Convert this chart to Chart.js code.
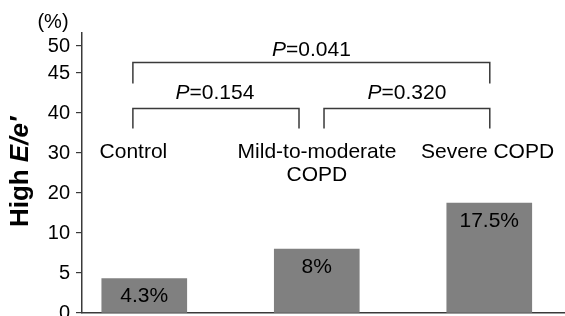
<!DOCTYPE html>
<html><head><meta charset="utf-8">
<script src="https://cdn.jsdelivr.net/npm/chart.js@4/dist/chart.umd.min.js"></script>
<style>html,body{margin:0;padding:0;background:#fff}#wrap{width:565px;height:316px}</style>
</head><body><div id="wrap"><canvas id="c" width="565" height="316"></canvas></div>
<script>
// ---- data ----
const categories = ['Control', 'Mild-to-moderate\nCOPD', 'Severe COPD'];
const highEePercent = [4.3, 8, 17.5];
const valueLabels = ['4.3%', '8%', '17.5%'];
const yTickValues = [0, 5, 10, 20, 30, 40, 45, 50];
const comparisonPairs = [[0, 2], [0, 1], [1, 2]];
const comparisonP = ['0.041', '0.154', '0.320'];

// ---- layout (broken axis slots & annotation placement, in axis units) ----
const yTickSlots = [0, 1, 2, 3, 4, 5, 6, 6.675];
const yTopSlot = 7;
const categoryLabelX = [-0.063, 1.001, 1.99];
const categoryLabelY = [30.1, 24.4];
const bracketLayout = [
  {x0: -0.066, x1: 2.003, yTop: 46.94, yLeg: 43.69, labelX: 0.969, labelY: 49.17},
  {x0: -0.066, x1: 0.897, yTop: 40.56, yLeg: 36.1, labelX: 0.41, labelY: 42.44},
  {x0: 1.042, x1: 2.003, yTop: 40.56, yLeg: 36.1, labelX: 1.523, labelY: 42.44}
];

const FONT = "'Liberation Sans', Arial, Helvetica, sans-serif";
const AXIS_COLOR = '#3a3a3a';
const LABEL_SIZE = 21;

// piecewise (broken) linear value axis
class BrokenLinearScale extends Chart.LinearScale {
  slotOf(v) {
    const vals = yTickValues, slots = yTickSlots;
    let i = 1;
    while (i < vals.length - 1 && v > vals[i]) i++;
    const t = (v - vals[i - 1]) / (vals[i] - vals[i - 1]);
    return slots[i - 1] + t * (slots[i] - slots[i - 1]);
  }
  valueOfSlot(s) {
    const vals = yTickValues, slots = yTickSlots;
    let i = 1;
    while (i < slots.length - 1 && s > slots[i]) i++;
    const t = (s - slots[i - 1]) / (slots[i] - slots[i - 1]);
    return vals[i - 1] + t * (vals[i] - vals[i - 1]);
  }
  determineDataLimits() { this.min = yTickValues[0]; this.max = yTickValues[yTickValues.length - 1]; }
  buildTicks() { return yTickValues.map(v => ({value: v})); }
  getPixelForValue(v) { return this.getPixelForDecimal(this.slotOf(v) / yTopSlot); }
  getValueForPixel(p) { return this.valueOfSlot(this.getDecimalForPixel(p) * yTopSlot); }
}
BrokenLinearScale.id = 'brokenLinear';
BrokenLinearScale.defaults = Chart.LinearScale.defaults;
Chart.register(BrokenLinearScale);

function drawMixed(ctx, parts, cx, cy, size, weight) {
  let total = 0;
  const widths = parts.map(p => {
    ctx.font = `${p.italic ? 'italic ' : ''}${weight} ${size}px ${FONT}`;
    const w = ctx.measureText(p.text).width; total += w; return w;
  });
  let x = cx - total / 2;
  ctx.textAlign = 'left'; ctx.textBaseline = 'middle';
  parts.forEach((p, i) => {
    ctx.font = `${p.italic ? 'italic ' : ''}${weight} ${size}px ${FONT}`;
    ctx.fillText(p.text, x, cy); x += widths[i];
  });
}

const annotations = {
  id: 'annotations',
  afterDraw(chart) {
    const ctx = chart.ctx, xs = chart.scales.x, ys = chart.scales.y;
    ctx.save();
    ctx.fillStyle = '#000';
    // value labels inside bars
    const meta = chart.getDatasetMeta(0);
    ctx.font = `${LABEL_SIZE}px ${FONT}`; ctx.textAlign = 'center'; ctx.textBaseline = 'middle';
    meta.data.forEach((bar, i) => ctx.fillText(valueLabels[i], bar.x, bar.y + 18));
    // category labels
    categories.forEach((c, i) => {
      c.split('\n').forEach((line, j) => {
        ctx.fillText(line, xs.getPixelForValue(categoryLabelX[i]), ys.getPixelForValue(categoryLabelY[j]));
      });
    });
    // brackets
    ctx.strokeStyle = AXIS_COLOR; ctx.lineWidth = 1.5;
    comparisonPairs.forEach((pair, k) => {
      const b = bracketLayout[k];
      const x0 = xs.getPixelForValue(b.x0), x1 = xs.getPixelForValue(b.x1);
      const yt = ys.getPixelForValue(b.yTop), yl = ys.getPixelForValue(b.yLeg);
      ctx.beginPath();
      ctx.moveTo(x0, yl); ctx.lineTo(x0, yt); ctx.lineTo(x1, yt); ctx.lineTo(x1, yl);
      ctx.stroke();
      drawMixed(ctx, [{text: 'P', italic: true}, {text: '=' + comparisonP[k]}],
        xs.getPixelForValue(b.labelX), ys.getPixelForValue(b.labelY), LABEL_SIZE, 'normal');
    });
    // unit label
    ctx.font = `20px ${FONT}`; ctx.textAlign = 'center'; ctx.textBaseline = 'middle';
    ctx.fillText('(%)', 53, 22);
    // y title
    ctx.translate(21, 172); ctx.rotate(-Math.PI / 2);
    drawMixed(ctx, [{text: 'High '}, {text: 'E/e\u2032', italic: true}], 0, 0, 26, 'bold');
    ctx.restore();
  }
};

new Chart(document.getElementById('c'), {
  type: 'bar',
  data: {
    datasets: [{
      data: highEePercent.map((v, i) => ({x: i, y: v})),
      backgroundColor: '#808080',
      borderWidth: 0,
      barThickness: 85
    }]
  },
  options: {
    responsive: false,
    animation: false,
    layout: {padding: {left: 0, top: 33, right: 0, bottom: 3}},
    plugins: {legend: {display: false}, tooltip: {enabled: false}},
    scales: {
      x: {
        type: 'linear', min: -0.361, max: 2.439, offset: false,
        grid: {display: false, drawTicks: false, offset: false},
        ticks: {display: false},
        border: {display: true, color: AXIS_COLOR, width: 1.5},
        afterFit(s) { s.height = 0; s.paddingLeft = 0; s.paddingRight = 0; }
      },
      y: {
        type: 'brokenLinear',
        grid: {display: true, drawOnChartArea: false, drawTicks: true, tickLength: 6, color: AXIS_COLOR, lineWidth: 1.2},
        border: {display: true, color: AXIS_COLOR, width: 1.5},
        ticks: {
          font: {family: FONT, size: 20}, color: '#000', padding: 6,
          callback: (v, i) => String(yTickValues[i])
        },
        afterFit(s) { s.width = 82; s.paddingTop = 0; s.paddingBottom = 0; }
      }
    }
  },
  plugins: [annotations]
});
</script></body></html>
